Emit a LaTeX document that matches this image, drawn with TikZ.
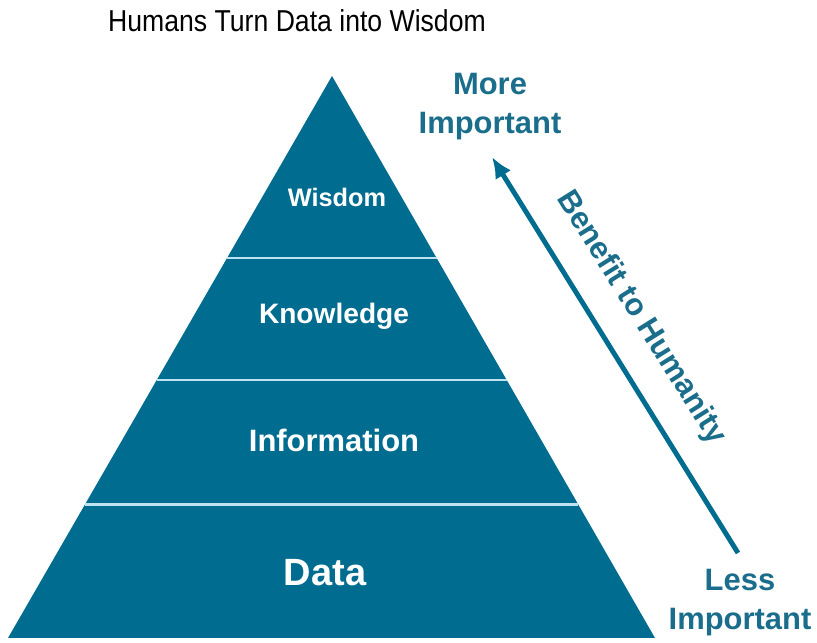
\documentclass[tikz,border=0pt]{standalone}
\usepackage{fontspec}
\setmainfont{Liberation Sans}
\newfontfamily\titlefont[FakeStretch=0.88]{Liberation Sans}
\usetikzlibrary{arrows.meta,calc}
\definecolor{pyrblue}{RGB}{0,108,143}
\definecolor{txtblue}{RGB}{26,110,140}
\definecolor{seplight}{RGB}{190,226,240}
\begin{document}
\begin{tikzpicture}[x=0.025cm,y=0.025cm,>=latex,
  level/.style={text=white,font=\bfseries},
  side/.style={text=txtblue,font=\bfseries\fontsize{22}{27.7}\selectfont,align=center},
  sepline/.style={draw=seplight,line width=2pt}]
  \useasboundingbox (0,0) rectangle (817,643);
  % title
  \node[font=\titlefont\fontsize{21.5}{24}\selectfont] (title) at (297,622) {Humans Turn Data into Wisdom};
  % pyramid
  \coordinate (apex) at (332,567);
  \coordinate (bl) at (8,5);
  \coordinate (br) at (655,5);
  \fill[pyrblue] (bl) -- (apex) -- (br) -- cycle;
  \draw[sepline] ($(bl)!0.676!(apex)$) -- ($(br)!0.676!(apex)$);
  \draw[sepline] ($(bl)!0.459!(apex)$) -- ($(br)!0.459!(apex)$);
  \draw[sepline] ($(bl)!0.237!(apex)$) -- ($(br)!0.237!(apex)$);
  \node[level,font=\bfseries\fontsize{18}{20}\selectfont] (wisdom) at (337,446) {Wisdom};
  \node[level,font=\bfseries\fontsize{20}{22}\selectfont] (knowledge) at (334,327) {Knowledge};
  \node[level,font=\bfseries\fontsize{22}{24}\selectfont] (information) at (334,203) {Information};
  \node[level,font=\bfseries\fontsize{27}{30}\selectfont] (data) at (325,70) {Data};
  % benefit arrow
  \node[side] (more) at (490,536) {More\\Important};
  \node[side] (less) at (740,40) {Less\\Important};
  \coordinate (tail) at (738,90);
  \coordinate (tip) at (492,486);
  \draw[pyrblue,line width=3.5pt,-{Latex[length=15pt,width=13pt]}] (tail) -- (tip);
  \node[text=txtblue,font=\bfseries\fontsize{22}{24}\selectfont,rotate=-58] (benefit) at (641,325) {Benefit to Humanity};
\end{tikzpicture}
\end{document}
